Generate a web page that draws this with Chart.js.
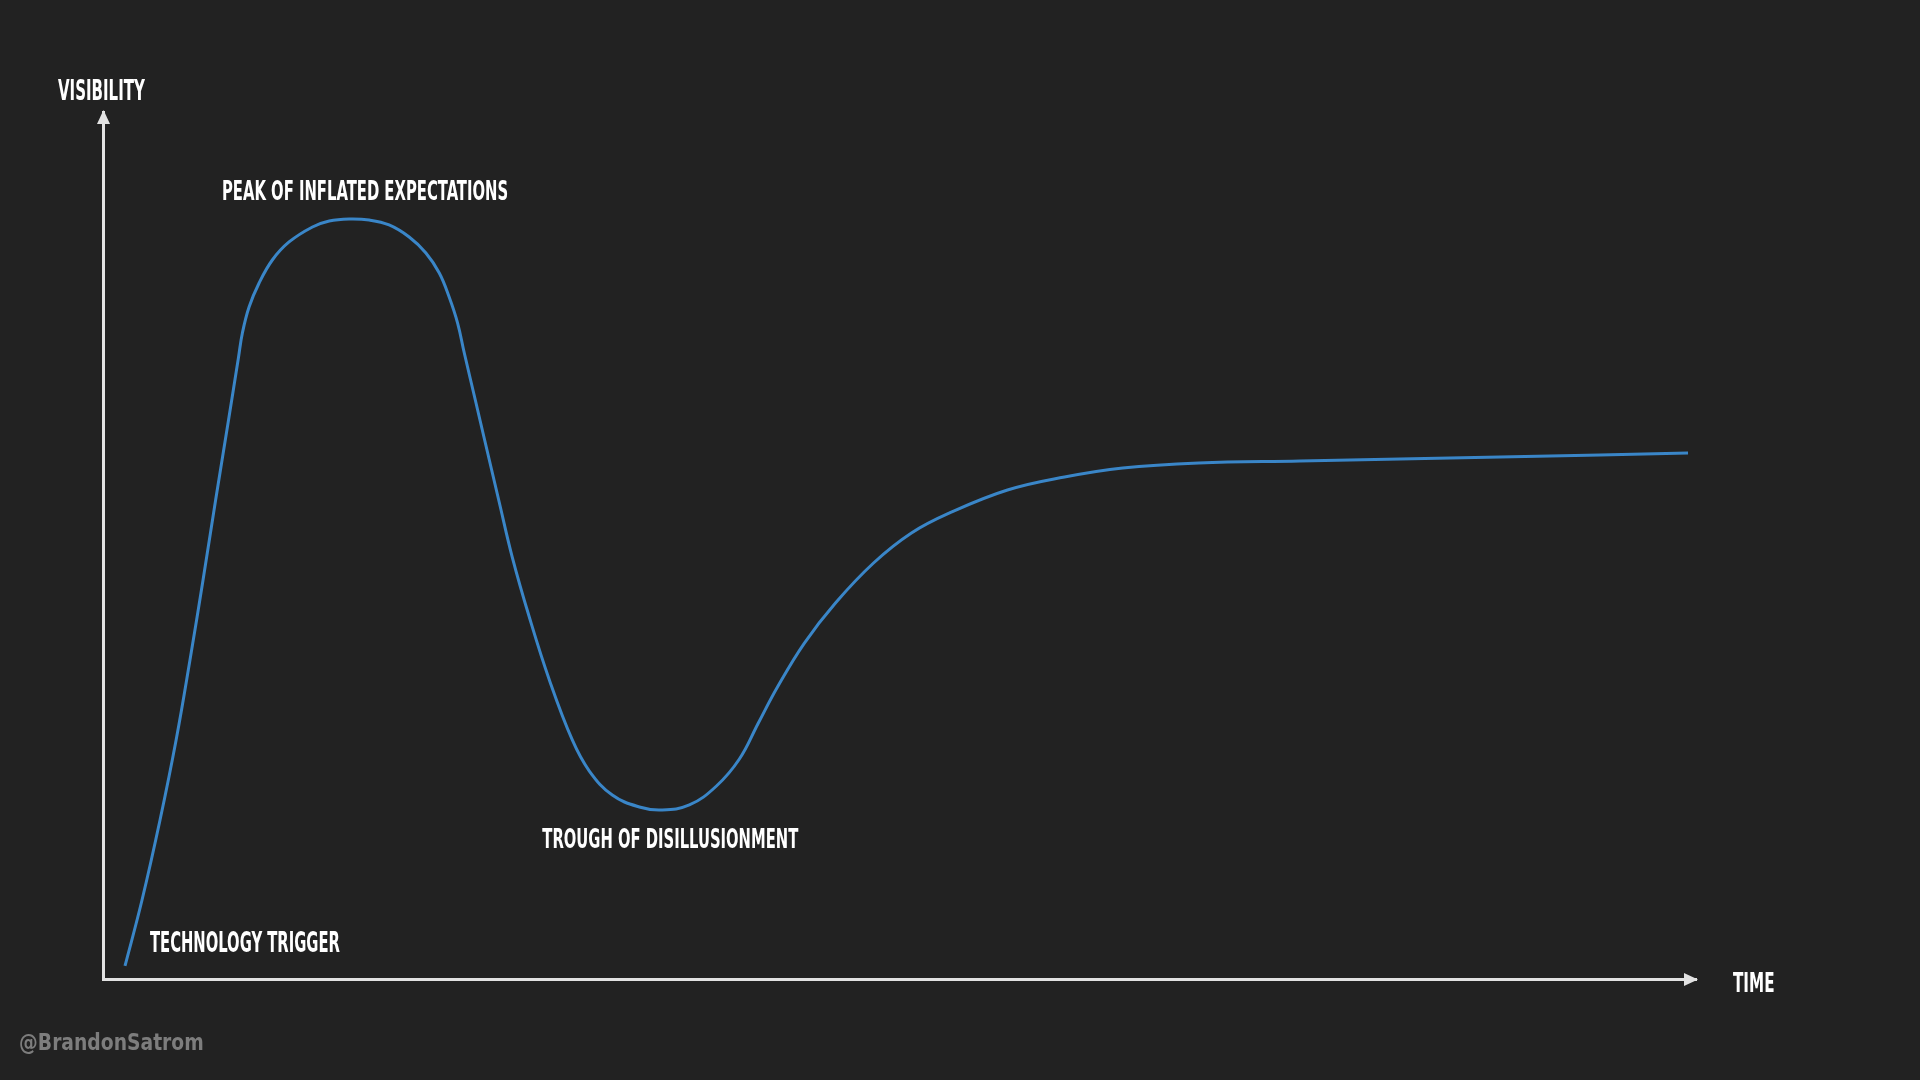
<!DOCTYPE html>
<html>
<head>
<meta charset="utf-8">
<style>
  html, body { margin: 0; padding: 0; background: #222222; overflow: hidden; }
  #wrap { width: 1920px; height: 1080px; position: relative; }
  canvas { display: block; }
</style>
<script src="https://cdn.jsdelivr.net/npm/chart.js@4.4.1/dist/chart.umd.min.js"></script>
</head>
<body>
<div id="wrap"><canvas id="c" width="1920" height="1080" style="width:1920px;height:1080px"></canvas></div>
<script>
// ---- Data (time and visibility on a 0-100 scale) ----
const timeValues = [
  1.38, 2.45, 3.58, 4.59, 5.46, 6.28, 7.07, 7.88, 8.50, 8.75, 9.17, 9.80, 10.63,
  11.68, 13.15, 14.20, 15.45, 16.71, 17.96, 19.22, 20.27, 21.11, 21.73, 22.26, 22.68,
  23.43, 23.81, 24.87, 25.69, 26.76, 28.02, 29.46, 30.53, 31.97, 33.67, 35.05, 36.81,
  38.51, 39.95, 41.14, 42.34, 44.03, 45.98, 48.37, 50.75, 53.14, 56.78, 60.36,
  64.01, 68.78, 75.13, 81.41, 87.69, 93.97, 99.50
];
const visibilityValues = [
  1.50, 9.11, 18.34, 27.57, 36.79, 46.02, 55.25, 64.48, 71.63, 74.51, 77.51, 80.28, 82.93,
  85.01, 86.74, 87.43, 87.66, 87.54, 86.97, 85.58, 83.74, 81.43, 78.66, 75.66, 72.20,
  66.32, 63.32, 55.02, 48.67, 41.75, 34.49, 27.57, 23.99, 21.22, 19.84, 19.49, 20.07,
  22.26, 25.37, 29.53, 33.68, 38.75, 43.37, 47.98, 51.44, 53.75, 56.40, 57.90,
  58.94, 59.52, 59.75, 59.98, 60.21, 60.44, 60.67
];
const axisTitles = ['VISIBILITY', 'TIME'];
const phaseNames = ['TECHNOLOGY TRIGGER', 'PEAK OF INFLATED EXPECTATIONS', 'TROUGH OF DISILLUSIONMENT'];
const creditText = '@BrandonSatrom';

// ---- Layout / style (kept apart from the data) ----
const BG = '#222222';
const AXIS_COLOR = '#e2e2e2';
const LINE_COLOR = '#3a86c8';
const TEXT_COLOR = '#ffffff';
const CREDIT_COLOR = '#7d7d7d';
const FONT_STACK = '"Liberation Sans Narrow", "DejaVu Sans Condensed", "Roboto", sans-serif';

// phase label anchors in data units: [left time, baseline visibility], ink width px, cap height px
const phaseLayout = [
  { t: 2.95, v: 3.11, w: 190, cap: 21 },
  { t: 7.54, v: 89.85, w: 284, cap: 20 },
  { t: 27.58, v: 15.11, w: 256, cap: 20 }
];

function drawFitText(ctx, text, left, baseline, inkWidth, capHeight, color) {
  ctx.save();
  ctx.font = 'bold 100px ' + FONT_STACK;
  const capRatio = ctx.measureText('H').actualBoundingBoxAscent / 100;
  const size = capHeight / capRatio;
  ctx.font = 'bold ' + size.toFixed(2) + 'px ' + FONT_STACK;
  const m = ctx.measureText(text);
  const ink = m.actualBoundingBoxLeft + m.actualBoundingBoxRight;
  const sx = inkWidth / ink;
  ctx.translate(left, baseline);
  ctx.scale(sx, 1);
  ctx.fillStyle = color;
  ctx.textBaseline = 'alphabetic';
  ctx.textAlign = 'left';
  ctx.fillText(text, m.actualBoundingBoxLeft, 0);
  ctx.restore();
}

const decorPlugin = {
  id: 'decor',
  beforeDraw(chart) {
    const ctx = chart.ctx;
    ctx.save();
    ctx.fillStyle = BG;
    ctx.fillRect(0, 0, chart.width, chart.height);
    ctx.restore();
  },
  afterDraw(chart) {
    const ctx = chart.ctx;
    const a = chart.chartArea;
    const xs = chart.scales.x, ys = chart.scales.y;
    const axX = a.left + 0.5, axY = a.bottom + 0.5;
    ctx.save();
    ctx.fillStyle = AXIS_COLOR;
    // y arrow
    ctx.beginPath();
    ctx.moveTo(axX, a.top - 2);
    ctx.lineTo(axX - 6.5, a.top + 12);
    ctx.lineTo(axX + 6.5, a.top + 12);
    ctx.closePath();
    ctx.fill();
    // x arrow
    ctx.beginPath();
    ctx.moveTo(a.right + 2, axY);
    ctx.lineTo(a.right - 12, axY - 6.5);
    ctx.lineTo(a.right - 12, axY + 6.5);
    ctx.closePath();
    ctx.fill();
    ctx.restore();

    // axis titles
    drawFitText(ctx, axisTitles[0], a.left - 45, a.top - 12, 87, 21, TEXT_COLOR);
    drawFitText(ctx, axisTitles[1], a.right + 37, a.bottom + 13, 41, 20, TEXT_COLOR);
    // phase labels
    phaseNames.forEach((name, i) => {
      const L = phaseLayout[i];
      drawFitText(ctx, name, xs.getPixelForValue(L.t), ys.getPixelForValue(L.v), L.w, L.cap, TEXT_COLOR);
    });
    // credit
    drawFitText(ctx, creditText, 20, 1050, 183, 17, CREDIT_COLOR);
  }
};

const axisBase = {
  type: 'linear',
  min: 0,
  max: 100,
  display: true,
  ticks: { display: false },
  grid: { display: false, drawTicks: false },
  border: { display: true, color: AXIS_COLOR, width: 3 }
};

new Chart(document.getElementById('c'), {
  type: 'line',
  data: {
    datasets: [{
      data: timeValues.map((t, i) => ({ x: t, y: visibilityValues[i] })),
      borderColor: LINE_COLOR,
      borderWidth: 3,
      pointRadius: 0,
      fill: false,
      tension: 0.4,
      borderCapStyle: 'butt',
      borderJoinStyle: 'round'
    }]
  },
  options: {
    responsive: false,
    animation: false,
    devicePixelRatio: 1,
    layout: { padding: { left: 103, top: 112, right: 224, bottom: 101 } },
    plugins: { legend: { display: false }, tooltip: { enabled: false } },
    scales: {
      x: Object.assign({}, axisBase, { afterFit: s => { s.height = 0; } }),
      y: Object.assign({}, axisBase, { afterFit: s => { s.width = 0; } })
    }
  },
  plugins: [decorPlugin]
});
</script>
</body>
</html>
